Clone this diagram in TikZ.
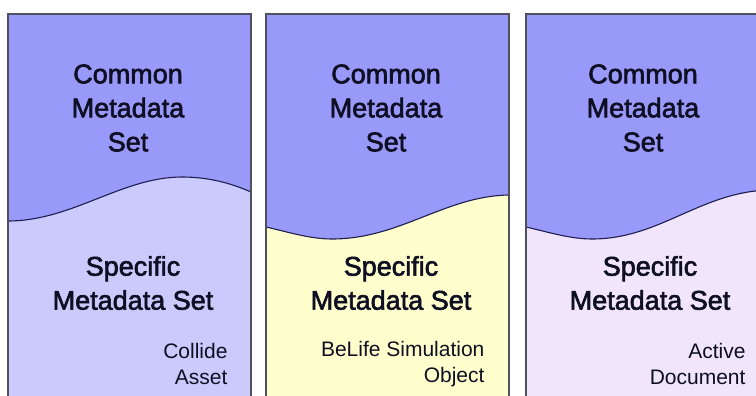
\documentclass[tikz,border=0pt]{standalone}
\usepackage{fontspec}
\setmainfont{Liberation Sans}
\newfontfamily\heavyfont[FakeBold=2.2]{Liberation Sans}
\definecolor{commonblue}{RGB}{153,153,250}
\definecolor{collidebg}{RGB}{202,202,252}
\definecolor{belifebg}{RGB}{255,255,206}
\definecolor{activebg}{RGB}{240,229,250}
\definecolor{framegray}{RGB}{80,80,95}
\definecolor{wavenavy}{RGB}{30,30,80}
\definecolor{textnavy}{RGB}{15,15,35}

\begin{document}
\begin{tikzpicture}[x=1pt, y=-1pt]
  \tikzstyle{panel}=[draw=framegray, line width=1.5pt]
  \tikzstyle{wave}=[draw=wavenavy, line width=1.1pt]
  \tikzstyle{bigtext}=[align=center, text=textnavy, font=\heavyfont\fontsize{27}{34}\selectfont]
  \tikzstyle{smalltext}=[align=right, anchor=east, text=textnavy, font=\fontsize{21}{26}\selectfont]

  \useasboundingbox (0,0) rectangle (756,396);
  \clip (0,0) rectangle (756,396);

  % Collide panel
  \fill[collidebg] (8,14) rectangle (251,400);
  \fill[commonblue] (8,14) -- (251,14) -- (251,192)
    .. controls (235,185) and (212,177) .. (182,177)
    .. controls (122,177) and (72,221) .. (8,221) -- cycle;
  \draw[wave] (251,192) .. controls (235,185) and (212,177) .. (182,177)
    .. controls (122,177) and (72,221) .. (8,221);
  \draw[panel] (8,14) rectangle (251,400);

  % BeLife panel
  \fill[belifebg] (266,14) rectangle (509,400);
  \fill[commonblue] (266,14) -- (509,14) -- (509,195)
    .. controls (445,196) and (400,239) .. (332,239)
    .. controls (310,239) and (288,232) .. (266,227) -- cycle;
  \draw[wave] (509,195) .. controls (445,196) and (400,239) .. (332,239)
    .. controls (310,239) and (288,232) .. (266,227);
  \draw[panel] (266,14) rectangle (509,400);

  % Active panel
  \fill[activebg] (526,14) rectangle (769,400);
  \fill[commonblue] (526,14) -- (769,14) -- (769,190)
    .. controls (700,192) and (660,239) .. (592,239)
    .. controls (570,239) and (548,232) .. (526,227) -- cycle;
  \draw[wave] (769,190) .. controls (700,192) and (660,239) .. (592,239)
    .. controls (570,239) and (548,232) .. (526,227);
  \draw[panel] (526,14) rectangle (769,400);

  \node[bigtext] (common1) at (128,108) {Common\\Metadata\\Set};
  \node[bigtext] (common2) at (386,108) {Common\\Metadata\\Set};
  \node[bigtext] (common3) at (643,108) {Common\\Metadata\\Set};

  \node[bigtext] (specific1) at (133,283) {Specific\\Metadata Set};
  \node[bigtext] (specific2) at (391,283) {Specific\\Metadata Set};
  \node[bigtext] (specific3) at (650,283) {Specific\\Metadata Set};

  \node[smalltext] (collide) at (231,364) {Collide\\Asset};
  \node[smalltext] (belife) at (488,364) {BeLife Simulation\\Object};
  \node[smalltext] (active) at (749,364) {Active\\Document};
\end{tikzpicture}
\end{document}
